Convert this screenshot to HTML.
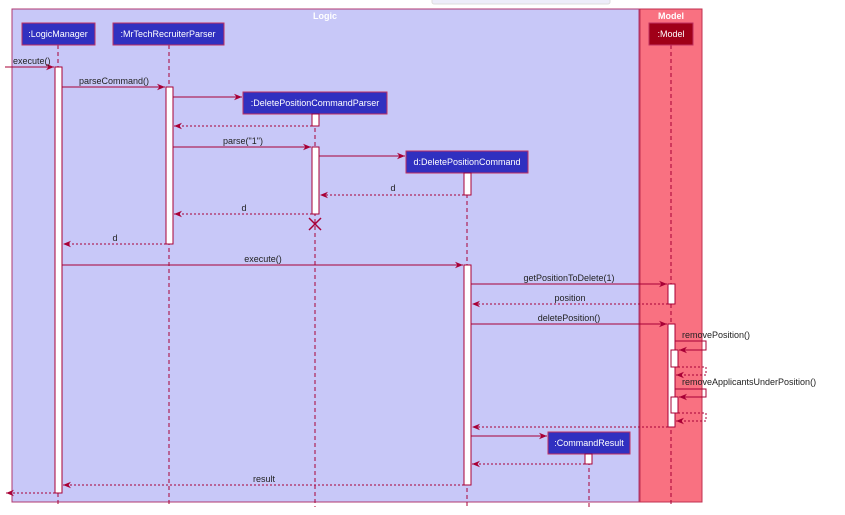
<!DOCTYPE html>
<html><head><meta charset="utf-8"><style>
html,body{margin:0;padding:0;background:#fff;width:845px;height:515px;overflow:hidden}
text{font-family:"Liberation Sans",sans-serif;font-size:9px;fill:#222}
</style></head><body>
<svg width="845" height="515" viewBox="0 0 845 515" xmlns="http://www.w3.org/2000/svg">
<defs>
<marker id="a" viewBox="0 0 10 10" refX="10" refY="5" markerWidth="8" markerHeight="8" orient="auto-start-reverse"><path d="M0,1 L10,5 L0,9 L3,5 z" fill="#A80036"/></marker>
</defs>
<rect x="432" y="-6" width="178" height="10" rx="2" fill="#EDEDFA" stroke="#ddd"/>
<rect x="12" y="9" width="627" height="493" fill="#C8C8F8" stroke="#B03870"/>
<rect x="640" y="9" width="62" height="493" fill="#F97181" stroke="#C03050"/>
<text x="325" y="19" text-anchor="middle" style="fill:#fff;font-weight:bold;font-size:9px">Logic</text>
<text x="671" y="19" text-anchor="middle" style="fill:#fff;font-weight:bold;font-size:9px">Model</text>
<g stroke="#A80036" stroke-width="1" stroke-dasharray="4,3">
<line x1="58" y1="45" x2="58" y2="507"/>
<line x1="169" y1="45" x2="169" y2="507"/>
<line x1="315" y1="114" x2="315" y2="507"/>
<line x1="467" y1="173" x2="467" y2="507"/>
<line x1="589" y1="454" x2="589" y2="507"/>
<line x1="671" y1="45" x2="671" y2="507"/>
</g>
<g font-size="9">
<rect x="22" y="23" width="73" height="22" fill="#3030C0" stroke="#C03060"/><text x="58" y="37" text-anchor="middle" style="fill:#fff">:LogicManager</text>
<rect x="113" y="23" width="111" height="22" fill="#3030C0" stroke="#C03060"/><text x="168" y="37" text-anchor="middle" style="fill:#fff">:MrTechRecruiterParser</text>
<rect x="649" y="23" width="44" height="22" fill="#A00018" stroke="#C03060"/><text x="671" y="37" text-anchor="middle" style="fill:#fff">:Model</text>
<rect x="243" y="92" width="144" height="22" fill="#3030C0" stroke="#C03060"/><text x="315" y="106" text-anchor="middle" style="fill:#fff">:DeletePositionCommandParser</text>
<rect x="406" y="151" width="122" height="22" fill="#3030C0" stroke="#C03060"/><text x="467" y="165" text-anchor="middle" style="fill:#fff">d:DeletePositionCommand</text>
<rect x="548" y="432" width="82" height="22" fill="#3030C0" stroke="#C03060"/><text x="589" y="446" text-anchor="middle" style="fill:#fff">:CommandResult</text>
</g>
<g fill="#fff" stroke="#A80036">
<rect x="55" y="67" width="7" height="426"/>
<rect x="166" y="87" width="7" height="157"/>
<rect x="312" y="114" width="7" height="12"/>
<rect x="312" y="147" width="7" height="67"/>
<rect x="464" y="173" width="7" height="22"/>
<rect x="464" y="265" width="7" height="220"/>
<rect x="668" y="284" width="7" height="20"/>
<rect x="668" y="324" width="7" height="103"/>
<rect x="671" y="350" width="7" height="17"/>
<rect x="671" y="397" width="7" height="16"/>
<rect x="585" y="454" width="7" height="10"/>
</g>
<g stroke="#A80036" fill="none" marker-end="url(#a)">
<line x1="5" y1="67" x2="54" y2="67"/>
<line x1="62" y1="87" x2="165" y2="87"/>
<line x1="173" y1="97" x2="242" y2="97"/>
<line x1="312" y1="126" x2="174" y2="126" stroke-dasharray="2,2"/>
<line x1="173" y1="147" x2="311" y2="147"/>
<line x1="319" y1="156" x2="405" y2="156"/>
<line x1="464" y1="195" x2="320" y2="195" stroke-dasharray="2,2"/>
<line x1="312" y1="214" x2="174" y2="214" stroke-dasharray="2,2"/>
<line x1="166" y1="244" x2="63" y2="244" stroke-dasharray="2,2"/>
<line x1="62" y1="265" x2="463" y2="265"/>
<line x1="471" y1="284" x2="667" y2="284"/>
<line x1="668" y1="304" x2="472" y2="304" stroke-dasharray="2,2"/>
<line x1="471" y1="324" x2="667" y2="324"/>
<polyline points="675,341 706,341 706,350 679,350"/>
<polyline points="678,367 706,367 706,375 676,375" stroke-dasharray="2,2"/>
<polyline points="675,389 706,389 706,397 679,397"/>
<polyline points="678,413 706,413 706,421 676,421" stroke-dasharray="2,2"/>
<line x1="668" y1="427" x2="472" y2="427" stroke-dasharray="2,2"/>
<line x1="471" y1="436" x2="547" y2="436"/>
<line x1="585" y1="464" x2="472" y2="464" stroke-dasharray="2,2"/>
<line x1="464" y1="485" x2="63" y2="485" stroke-dasharray="2,2"/>
<line x1="55" y1="493" x2="6" y2="493" stroke-dasharray="2,2"/>
</g>
<g stroke="#A80036" stroke-width="1.5"><line x1="309" y1="218" x2="321" y2="230"/><line x1="321" y1="218" x2="309" y2="230"/></g>
<text x="13" y="64">execute()</text>
<text x="114" y="84" text-anchor="middle">parseCommand()</text>
<text x="243" y="144" text-anchor="middle">parse("1")</text>
<text x="393" y="191" text-anchor="middle">d</text>
<text x="244" y="211" text-anchor="middle">d</text>
<text x="115" y="241" text-anchor="middle">d</text>
<text x="263" y="262" text-anchor="middle">execute()</text>
<text x="569" y="281" text-anchor="middle">getPositionToDelete(1)</text>
<text x="570" y="301" text-anchor="middle">position</text>
<text x="569" y="321" text-anchor="middle">deletePosition()</text>
<text x="682" y="338">removePosition()</text>
<text x="682" y="385">removeApplicantsUnderPosition()</text>
<text x="264" y="482" text-anchor="middle">result</text>
</svg>
</body></html>
